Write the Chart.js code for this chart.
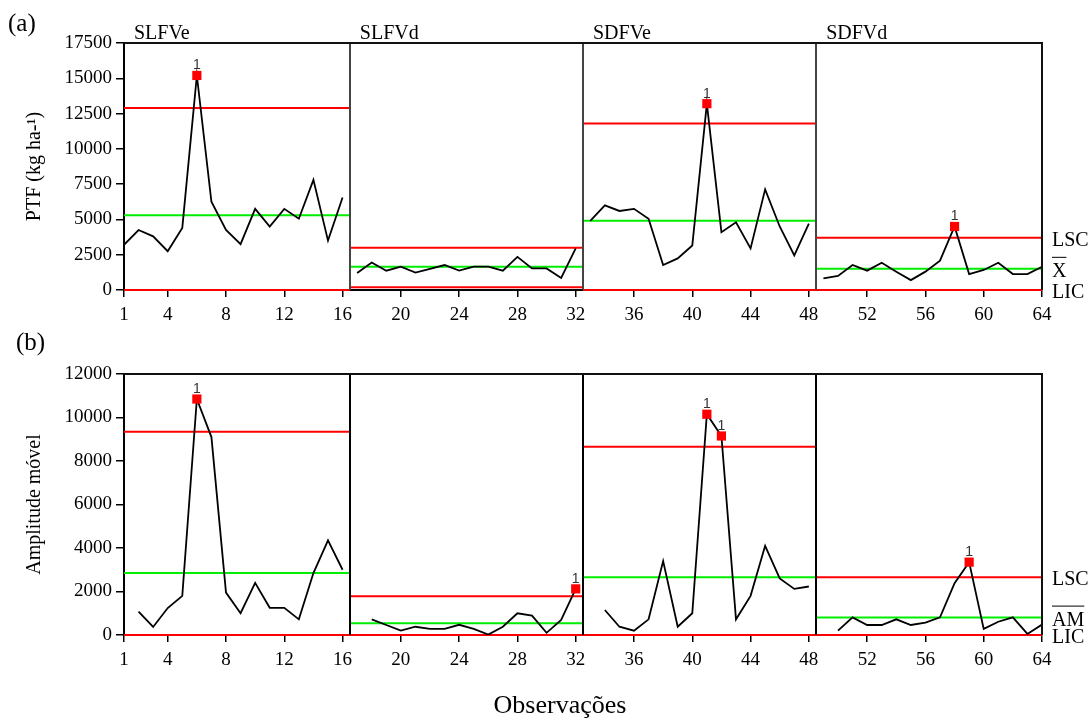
<!DOCTYPE html>
<html>
<head>
<meta charset="utf-8">
<script src="https://cdn.jsdelivr.net/npm/chart.js@4.4.0/dist/chart.umd.min.js"></script>
<style>
  body { margin: 0; background: #fff; }
  #wrap { position: relative; width: 1089px; height: 720px; }
  canvas { position: absolute; left: 0; }
</style>
</head>
<body>
<div id="wrap">
  <canvas id="chartA" style="top:0;width:1089px;height:330px"></canvas>
  <canvas id="chartB" style="top:330px;width:1089px;height:390px"></canvas>
</div>
<script>
// stages (each has 16 observations)
var stageNames = ['SLFVe', 'SLFVd', 'SDFVe', 'SDFVd'];
var stageStart = [1, 17, 33, 49];
var stageEnd = [16, 32, 48, 64];
var xTicks = [1, 4, 8, 12, 16, 20, 24, 28, 32, 36, 40, 44, 48, 52, 56, 60, 64];

// (a) individual values, PTF (kg ha-1), obs 1..64
var ptfValues = [
  3200, 4250, 3800, 2750, 4400, 15200, 6250, 4250, 3250, 5750, 4500, 5750, 5050, 7800, 3500, 6550,
  1200, 1950, 1370, 1650, 1230, 1500, 1770, 1370, 1650, 1650, 1370, 2350, 1530, 1530, 850, 2950,
  4900, 6000, 5600, 5750, 5050, 1770, 2240, 3150, 13200, 4100, 4800, 2950, 7130, 4500, 2450, 4700,
  830, 1000, 1770, 1370, 1930, 1300, 700, 1300, 2080, 4500, 1130, 1420, 1930, 1130, 1130, 1650
];
var ptfLSC = [12900, 3000, 11800, 3700];
var ptfMean = [5300, 1650, 4900, 1500];
var ptfLIC = [0, 200, 0, 0];
var ptfTicks = [0, 2500, 5000, 7500, 10000, 12500, 15000, 17500];

// (b) moving range, obs 1..64 (first obs of each stage has none)
var amValues = [
  null, 1080, 370, 1240, 1800, 10850, 9100, 1950, 1000, 2400, 1250, 1250, 720, 2850, 4350, 3000,
  null, 720, 460, 200, 380, 280, 280, 470, 280, 20, 380, 1000, 890, 100, 690, 2120,
  null, 1150, 380, 200, 720, 3400, 380, 1000, 10150, 9150, 720, 1800, 4100, 2600, 2120, 2230,
  null, 200, 810, 460, 460, 720, 460, 570, 810, 2380, 3350, 280, 610, 810, 50, 480
];
var amLSC = [9350, 1780, 8650, 2650];
var amMean = [2850, 540, 2650, 800];
var amLIC = [0, 0, 0, 0];
var amTicks = [0, 2000, 4000, 6000, 8000, 10000, 12000];

var SERIF = "'Liberation Serif', 'Times New Roman', serif";
var SANS = "'Liberation Sans', Arial, sans-serif";

// draws frame, stage separators, titles, labels of out-of-control points
var decoPlugin = {
  id: 'deco',
  afterDatasetsDraw: function(chart, args, opts) {
    var ctx = chart.ctx;
    var area = chart.chartArea;
    var xs = chart.scales.x, ys = chart.scales.y;
    ctx.save();

    // separators between stages
    ctx.strokeStyle = opts.sepColor;
    ctx.lineWidth = 2;
    for (var s = 1; s < stageStart.length; s++) {
      var px = Math.round(xs.getPixelForValue(stageStart[s] - 0.5));
      ctx.beginPath();
      ctx.moveTo(px, area.top);
      ctx.lineTo(px, area.bottom);
      ctx.stroke();
    }
    // top and right frame
    ctx.strokeStyle = '#111';
    ctx.beginPath();
    ctx.moveTo(area.left, area.top);
    ctx.lineTo(area.right, area.top);
    ctx.lineTo(area.right, area.bottom);
    ctx.stroke();

    // "1" above flagged points
    var meta = chart.getDatasetMeta(opts.flagIndex);
    ctx.fillStyle = '#333';
    ctx.font = '14px ' + SANS;
    ctx.textAlign = 'center';
    ctx.textBaseline = 'alphabetic';
    meta.data.forEach(function(pt) {
      ctx.fillText('1', pt.x, pt.y - 6);
    });

    // stage titles
    if (opts.stageTitles) {
      ctx.fillStyle = '#000';
      ctx.font = '20px ' + SERIF;
      ctx.textAlign = 'left';
      stageNames.forEach(function(name, i) {
        var left = i === 0 ? area.left : xs.getPixelForValue(stageStart[i] - 0.5);
        ctx.fillText(name, left + 10, area.top - 4);
      });
    }

    // labels of the control lines at the right
    ctx.fillStyle = '#000';
    ctx.font = '20px ' + SERIF;
    ctx.textAlign = 'left';
    ctx.strokeStyle = '#000';
    ctx.lineWidth = 1;
    opts.rightLabels.forEach(function(lab) {
      var py = ys.getPixelForValue(lab.value) + 8;
      var tx = area.right + 10;
      ctx.fillText(lab.text, tx, py);
      if (lab.bar) {
        var w = ctx.measureText(lab.text).width;
        ctx.beginPath();
        ctx.moveTo(tx, py - 19.5);
        ctx.lineTo(tx + w, py - 19.5);
        ctx.stroke();
      }
    });

    // panel letter
    ctx.font = '25px ' + SERIF;
    ctx.textAlign = 'left';
    ctx.fillText(opts.panel, opts.panelX, opts.panelY);

    // y title
    ctx.font = '20px ' + SERIF;
    ctx.textAlign = 'center';
    ctx.textBaseline = 'middle';
    ctx.save();
    ctx.translate(35, (area.top + area.bottom) / 2);
    ctx.rotate(-Math.PI / 2);
    ctx.fillText(opts.yTitle, 0, 0);
    ctx.restore();

    // x title
    if (opts.xTitle) {
      ctx.font = '26px ' + SERIF;
      ctx.textAlign = 'center';
      ctx.textBaseline = 'middle';
      ctx.fillText(opts.xTitle, 560, opts.xTitleY);
    }
    ctx.restore();
  }
};

function buildDatasets(values, lsc, mean, lic) {
  var sets = [];
  // flagged points (above LSC)
  var flagged = [];
  values.forEach(function(v, i) {
    var obs = i + 1;
    var s = stageStart.filter(function(st) { return st <= obs; }).length - 1;
    if (v !== null && v > lsc[s]) flagged.push({ x: obs, y: v });
  });
  sets.push({
    data: flagged, showLine: false, pointStyle: 'rect', pointRadius: 6.5,
    pointBackgroundColor: '#ff0000', pointBorderColor: '#ff0000', pointBorderWidth: 0,
    order: 0, clip: false
  });
  stageStart.forEach(function(st, s) {
    var pts = [];
    for (var obs = st; obs <= stageEnd[s]; obs++) {
      if (values[obs - 1] !== null) pts.push({ x: obs, y: values[obs - 1] });
    }
    sets.push({
      data: pts, borderColor: '#000', borderWidth: 1.8, pointRadius: 0,
      tension: 0, order: 1
    });
    [[lsc[s], '#ff0000'], [mean[s], '#00ee00'], [lic[s], '#ff0000']].forEach(function(c) {
      sets.push({
        data: [{ x: st - 0.5, y: c[0] }, { x: stageEnd[s] + 0.5, y: c[0] }],
        borderColor: c[1], borderWidth: 2, pointRadius: 0, order: 2,
        clip: { left: 0, right: 0, top: 5, bottom: 5 }
      });
    });
  });
  return sets;
}

function makeChart(id, cfg) {
  var ctx = document.getElementById(id).getContext('2d');
  return new Chart(ctx, {
    type: 'line',
    data: { datasets: buildDatasets(cfg.values, cfg.lsc, cfg.mean, cfg.lic) },
    options: {
      responsive: false,
      animation: false,
      layout: { padding: { top: cfg.padTop, right: 47, left: 0, bottom: 0 } },
      plugins: {
        legend: { display: false },
        tooltip: { enabled: false },
        deco: cfg.deco
      },
      scales: {
        x: {
          type: 'linear', min: 1, max: 64,
          afterBuildTicks: function(scale) {
            scale.ticks = xTicks.map(function(v) { return { value: v }; });
          },
          afterFit: function(scale) { scale.height = cfg.xAxisHeight; },
          grid: { drawOnChartArea: false, drawTicks: true, tickLength: 7, color: '#000', lineWidth: 1.5 },
          border: { display: true, color: '#000', width: 2 },
          ticks: { color: '#000', font: { family: SERIF, size: 19 }, padding: 7, maxRotation: 0, autoSkip: false }
        },
        y: {
          min: 0, max: cfg.yTicks[cfg.yTicks.length - 1],
          afterBuildTicks: function(scale) {
            scale.ticks = cfg.yTicks.map(function(v) { return { value: v }; });
          },
          afterFit: function(scale) { scale.width = 124; },
          grid: { drawOnChartArea: false, drawTicks: true, tickLength: 8, color: '#000', lineWidth: 1.5 },
          border: { display: true, color: '#000', width: 2 },
          ticks: {
            color: '#000', font: { family: SERIF, size: 19 }, padding: 4,
            callback: function(v) { return String(v); }
          }
        }
      }
    },
    plugins: [decoPlugin]
  });
}

var canvasA = document.getElementById('chartA');
canvasA.width = 1089; canvasA.height = 330;
var canvasB = document.getElementById('chartB');
canvasB.width = 1089; canvasB.height = 390;

makeChart('chartA', {
  values: ptfValues, lsc: ptfLSC, mean: ptfMean, lic: ptfLIC, yTicks: ptfTicks,
  padTop: 43, xAxisHeight: 40,
  deco: {
    sepColor: '#444', flagIndex: 0, stageTitles: true,
    rightLabels: [
      { text: 'LSC', value: ptfLSC[3] },
      { text: 'X', value: ptfMean[3], bar: true },
      { text: 'LIC', value: ptfLIC[3] }
    ],
    panel: '(a)', panelX: 8, panelY: 31,
    yTitle: 'PTF (kg ha-¹)'
  }
});

makeChart('chartB', {
  values: amValues, lsc: amLSC, mean: amMean, lic: amLIC, yTicks: amTicks,
  padTop: 44, xAxisHeight: 85,
  deco: {
    sepColor: '#000', flagIndex: 0, stageTitles: false,
    rightLabels: [
      { text: 'LSC', value: amLSC[3] },
      { text: 'AM', value: amMean[3], bar: true },
      { text: 'LIC', value: amLIC[3] }
    ],
    panel: '(b)', panelX: 16, panelY: 20,
    yTitle: 'Amplitude móvel',
    xTitle: 'Observações', xTitleY: 376
  }
});
</script>
</body>
</html>
